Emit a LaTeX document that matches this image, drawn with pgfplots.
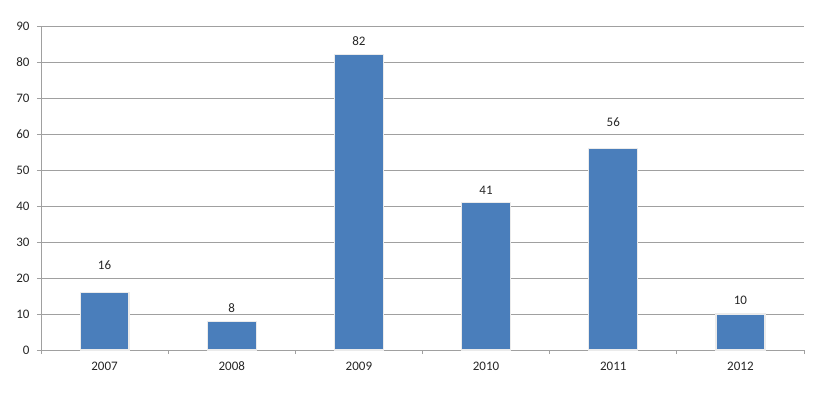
\documentclass[border=0pt]{standalone}
\usepackage{fontspec}
\setmainfont{Carlito}
\usepackage{pgfplots}
\pgfplotsset{compat=1.18}
\definecolor{barblue}{RGB}{74,126,187}
\definecolor{gridgray}{RGB}{160,160,160}
\begin{document}
\fontsize{13}{15}\selectfont
\begin{tikzpicture}
\path[use as bounding box] (-41pt,-46pt) rectangle (777pt,350pt);
\begin{axis}[
  at={(0,0)}, anchor=south west,
  scale only axis, width=763pt, height=324pt,
  xmin=-0.5, xmax=5.5, ymin=0, ymax=90,
  ytick={0,10,...,90},
  xtick={0,1,2,3,4,5},
  xticklabels={2007,2008,2009,2010,2011,2012},
  minor xtick={-0.5,0.5,...,5.5},
  major x tick style={draw=none},
  minor tick length=4pt,
  major tick length=4pt,
  tick align=outside,
  axis x line*=bottom, axis y line*=left,
  axis line style={gridgray, line width=0.8pt},
  every tick/.style={gridgray, line width=0.8pt},
  ymajorgrids, grid style={gridgray, line width=0.8pt},
  /pgf/number format/assume math mode=true,
  tick label style={font=\fontsize{13}{15}\selectfont, text=black!85},
  yticklabel style={xshift=-3pt},
  xticklabel style={yshift=-3pt, text height=9pt, text depth=0pt},
  clip=false,
]
\addplot[ybar, bar width=0.385, fill=barblue, draw=black!8, line width=1.2pt, bar shift=0pt]
  coordinates {(0,16) (1,8) (2,82) (3,41) (4,56) (5,10)};
\addplot[only marks, mark=none, nodes near coords, point meta=explicit symbolic,
  every node near coord/.style={anchor=center, text=black!85, font=\fontsize{13}{15}\selectfont}]
  coordinates {(0,23.6)[16] (1,11.7)[8] (2,85.7)[82] (3,44.4)[41] (4,63.3)[56] (5,13.9)[10]};
\end{axis}
\end{tikzpicture}
\end{document}
